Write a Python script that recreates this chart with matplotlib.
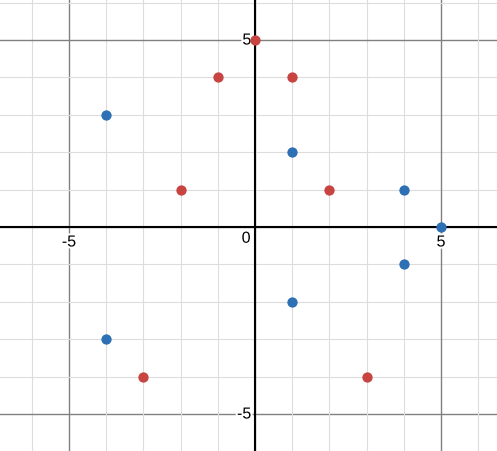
import matplotlib.pyplot as plt
import matplotlib.patheffects as pe

# red points
red_x = [0, -1, 1, -2, 2, -3, 3]
red_y = [5, 4, 4, 1, 1, -4, -4]
# blue points
blue_x = [-4, 1, 4, 5, 4, 1, -4]
blue_y = [3, 2, 1, 0, -1, -2, -3]

x_labels = [-5, 5]
y_labels = [5, -5]

fig = plt.figure(figsize=(4.97, 4.52), dpi=100)
ax = fig.add_axes([0, 0, 1, 1])
ax.set_xlim(-6.855, 6.505)
ax.set_ylim(-5.989, 6.096)

# grid
for v in range(-7, 8):
    major = v % 5 == 0
    ax.axvline(v, color="#808080" if major else "#dddddd", lw=1.0 if major else 0.8, zorder=0)
    ax.axhline(v, color="#808080" if major else "#dddddd", lw=1.0 if major else 0.8, zorder=0)
ax.axhline(0, color="black", lw=1.5, zorder=1)
ax.axvline(0, color="black", lw=1.5, zorder=1)

font = dict(family="Liberation Sans", fontsize=11.5)
halo = [pe.withStroke(linewidth=3, foreground="white")]
for v in x_labels:
    ax.text(v, -0.2, str(v), ha="center", va="top", path_effects=halo, zorder=2, **font)
for v in y_labels:
    ax.text(-0.1, v, str(v), ha="right", va="center", path_effects=halo, zorder=2, **font)
ax.text(-0.12, -0.1, "0", ha="right", va="top", path_effects=halo, zorder=2, **font)

ax.scatter(red_x, red_y, s=55, color="#c74440", zorder=3, linewidths=0)
ax.scatter(blue_x, blue_y, s=55, color="#2d70b3", zorder=3, linewidths=0)

ax.set_xticks([])
ax.set_yticks([])
for s in ax.spines.values():
    s.set_visible(False)

fig.savefig("out.png", dpi=100)
